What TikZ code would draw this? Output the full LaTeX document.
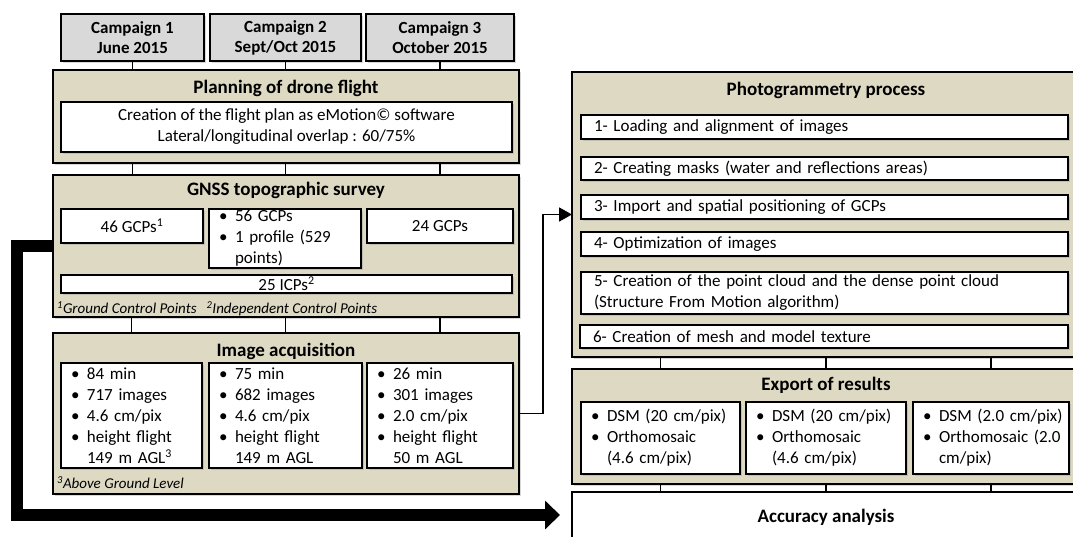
\documentclass[tikz,border=0pt]{standalone}
\usepackage{fontspec}
\setmainfont{Carlito}
\usetikzlibrary{arrows.meta,shadows}
\definecolor{tanfill}{RGB}{221,217,195}
\definecolor{campgray}{RGB}{217,217,217}
\newcommand\bodyf{\fontsize{17}{21}\selectfont}
\newcommand\hdrf{\fontsize{19}{23}\selectfont\bfseries}
\newcommand\campf{\fontsize{17}{20}\selectfont\bfseries}
\newcommand\fnf{\fontsize{15}{18}\selectfont\itshape}
\newcommand\bitem[1]{\mbox{\makebox[16pt][l]{•}#1}}
\newcommand\bcont[1]{\mbox{\hspace*{16pt}#1}}
\newcommand\mkbox[7]{%
 \pgfmathsetmacro\bxw{#5-#3}%
 \pgfmathsetmacro\bxh{#6-#4}%
 \pgfmathsetmacro\bxcx{(#3+#5)/2}%
 \pgfmathsetmacro\bxcy{(#4+#6)/2}%
 \node[#2, minimum width=\bxw pt, minimum height=\bxh pt] (#1) at (\bxcx,\bxcy) {#7};}
\newcommand\mkboxl[7]{%
 \pgfmathsetmacro\bxw{#5-#3}%
 \pgfmathsetmacro\bxh{#6-#4}%
 \pgfmathsetmacro\bxtw{#5-#3-20}%
 \pgfmathsetmacro\bxcx{(#3+#5)/2}%
 \pgfmathsetmacro\bxcy{(#4+#6)/2}%
 \node[#2, minimum width=\bxw pt, minimum height=\bxh pt, text width=\bxtw pt] (#1) at (\bxcx,\bxcy) {#7};}
\tikzset{
  base/.style={draw=black, line width=1.6pt, inner sep=0pt, outer sep=0pt, font=\bodyf,
    drop shadow={shadow xshift=1.5pt, shadow yshift=-1.5pt, opacity=0.3}},
  campbox/.style={base, fill=campgray, font=\campf, align=center},
  panel/.style={base, fill=tanfill},
  wbox/.style={base, fill=white, align=center},
  lbox/.style={base, fill=white, align=left, inner xsep=10pt},
  hdr/.style={font=\hdrf, inner sep=0pt},
  fn/.style={font=\fnf, inner sep=0pt, anchor=west},
  conn/.style={draw=black, line width=1.6pt},
}
\begin{document}
\begin{tikzpicture}[x=1pt, y=-1pt]
\useasboundingbox (0,0) rectangle (1073,536);
\fill[white] (0,0) rectangle (1073,536);
\clip (0,0) rectangle (1073,536);

% campaigns
\mkbox{c1}{campbox}{61}{14}{204}{61}{Campaign 1\\June 2015}
\mkbox{c2}{campbox}{210}{14}{361}{61}{Campaign 2\\Sept/Oct 2015}
\mkbox{c3}{campbox}{366}{14}{514}{61}{Campaign 3\\October 2015}

% planning
\mkbox{P}{panel}{53}{70}{519}{163}{}
\node[hdr] (Ph) at (286,88) {Planning of drone flight};
\mkbox{Pw}{wbox}{61}{102}{512}{152}{\fontsize{17}{19}\selectfont Creation of the flight plan as eMotion©  software\\Lateral/longitudinal overlap : 60/75\%}

% GNSS
\mkbox{G}{panel}{53}{175}{519}{317}{}
\node[hdr] (Gh) at (286,190) {GNSS topographic survey};
\mkbox{g1}{wbox}{61}{209}{203}{243}{46 GCPs\textsuperscript{1}}
\mkbox{g2}{wbox}{209}{209}{361}{268}{}
\node[font=\bodyf, align=left, text width=132pt, inner sep=0pt] (g2t) at (g2.center) {\bitem{56 GCPs}\\\bitem{1 profile (529}\\\bcont{points)}};
\mkbox{g3}{wbox}{367}{209}{513}{243}{24 GCPs}
\mkbox{icp}{wbox}{61}{275}{512}{293}{25 ICPs\textsuperscript{2}}
\node[fn] (Gf) at (57,309) {\textsuperscript{1}Ground Control Points\hspace{10pt}\textsuperscript{2}Independent Control Points};

% image acquisition
\mkbox{I}{panel}{53}{333}{519}{494}{}
\node[hdr] (Ih) at (286,351) {Image acquisition};
\mkboxl{i1}{lbox}{61}{363}{202}{468}{\bitem{84 min}\\\bitem{717 images}\\\bitem{4.6 cm/pix}\\\bitem{height flight}\\\bcont{149 m AGL\textsuperscript{3}}}
\mkboxl{i2}{lbox}{209}{363}{362}{468}{\bitem{75 min}\\\bitem{682 images}\\\bitem{4.6 cm/pix}\\\bitem{height flight}\\\bcont{149 m AGL}}
\mkboxl{i3}{lbox}{367}{363}{513}{468}{\bitem{26 min}\\\bitem{301 images}\\\bitem{2.0 cm/pix}\\\bitem{height flight}\\\bcont{50 m AGL}}
\node[fn] (If) at (57,483) {\textsuperscript{3}Above Ground Level};

% photogrammetry
\mkbox{PH}{panel}{572}{72}{1080}{357}{}
\node[hdr] (PHh) at (826,90) {Photogrammetry process};
\mkboxl{p1}{lbox}{581}{115}{1068}{139}{\hspace*{3pt}1- Loading and alignment of images}
\mkboxl{p2}{lbox}{581}{157}{1068}{180}{\hspace*{3pt}2- Creating masks (water and reflections areas)}
\mkboxl{p3}{lbox}{581}{195}{1068}{219}{\hspace*{3pt}3- Import and spatial positioning of GCPs}
\mkboxl{p4}{lbox}{581}{232}{1068}{256}{\hspace*{3pt}4- Optimization of images}
\mkboxl{p5}{lbox}{581}{272}{1068}{314}{\hspace*{3pt}5- Creation of the point cloud and the dense point cloud\\\hspace*{3pt}(Structure From Motion algorithm)}
\mkboxl{p6}{lbox}{580}{325}{1068}{348}{\hspace*{3pt}6- Creation of mesh and model texture}

% export
\mkbox{E}{panel}{572}{369}{1080}{484}{}
\node[hdr] (Eh) at (826,385) {Export of results};
\mkboxl{e1}{lbox}{581}{402}{740}{474}{\bitem{DSM (20 cm/pix)}\\\bitem{Orthomosaic}\\\bcont{(4.6 cm/pix)}}
\mkboxl{e2}{lbox}{746}{402}{906}{474}{\bitem{DSM (20 cm/pix)}\\\bitem{Orthomosaic}\\\bcont{(4.6 cm/pix)}}
\mkboxl{e3}{lbox}{913}{402}{1069}{474}{\bitem{DSM (2.0 cm/pix)}\\\bitem{Orthomosaic (2.0}\\\bcont{cm/pix)}}

% accuracy
\mkbox{A}{base,fill=white,font=\hdrf}{572}{492}{1080}{542}{Accuracy analysis}

% connectors
\foreach \c in {c1,c2,c3}{
  \draw[conn] (\c.south) -- (\c.south |- P.north);
  \draw[conn] (\c.south |- P.south) -- (\c.south |- G.north);
}
\foreach \c in {i1,i2,i3}{
  \draw[conn] (\c.north |- G.south) -- (\c.north |- I.north);
}
\foreach \c in {e1,e2,e3}{
  \draw[conn] (\c.north |- PH.south) -- (\c.north |- E.north);
  \draw[conn] (\c.south |- E.south) -- (\c.south |- A.north);
}

% arrows
\draw[line width=1.8pt, -{Triangle[length=13pt,width=14pt]}] (I.east) -- ++(24,0) |- (PH.west);
\coordinate (tip) at (560,515);
\draw[line width=12pt, -{Triangle[length=15pt,width=28pt]}] (G.west) -- ++(-36,0) |- (tip);
\end{tikzpicture}
\end{document}
